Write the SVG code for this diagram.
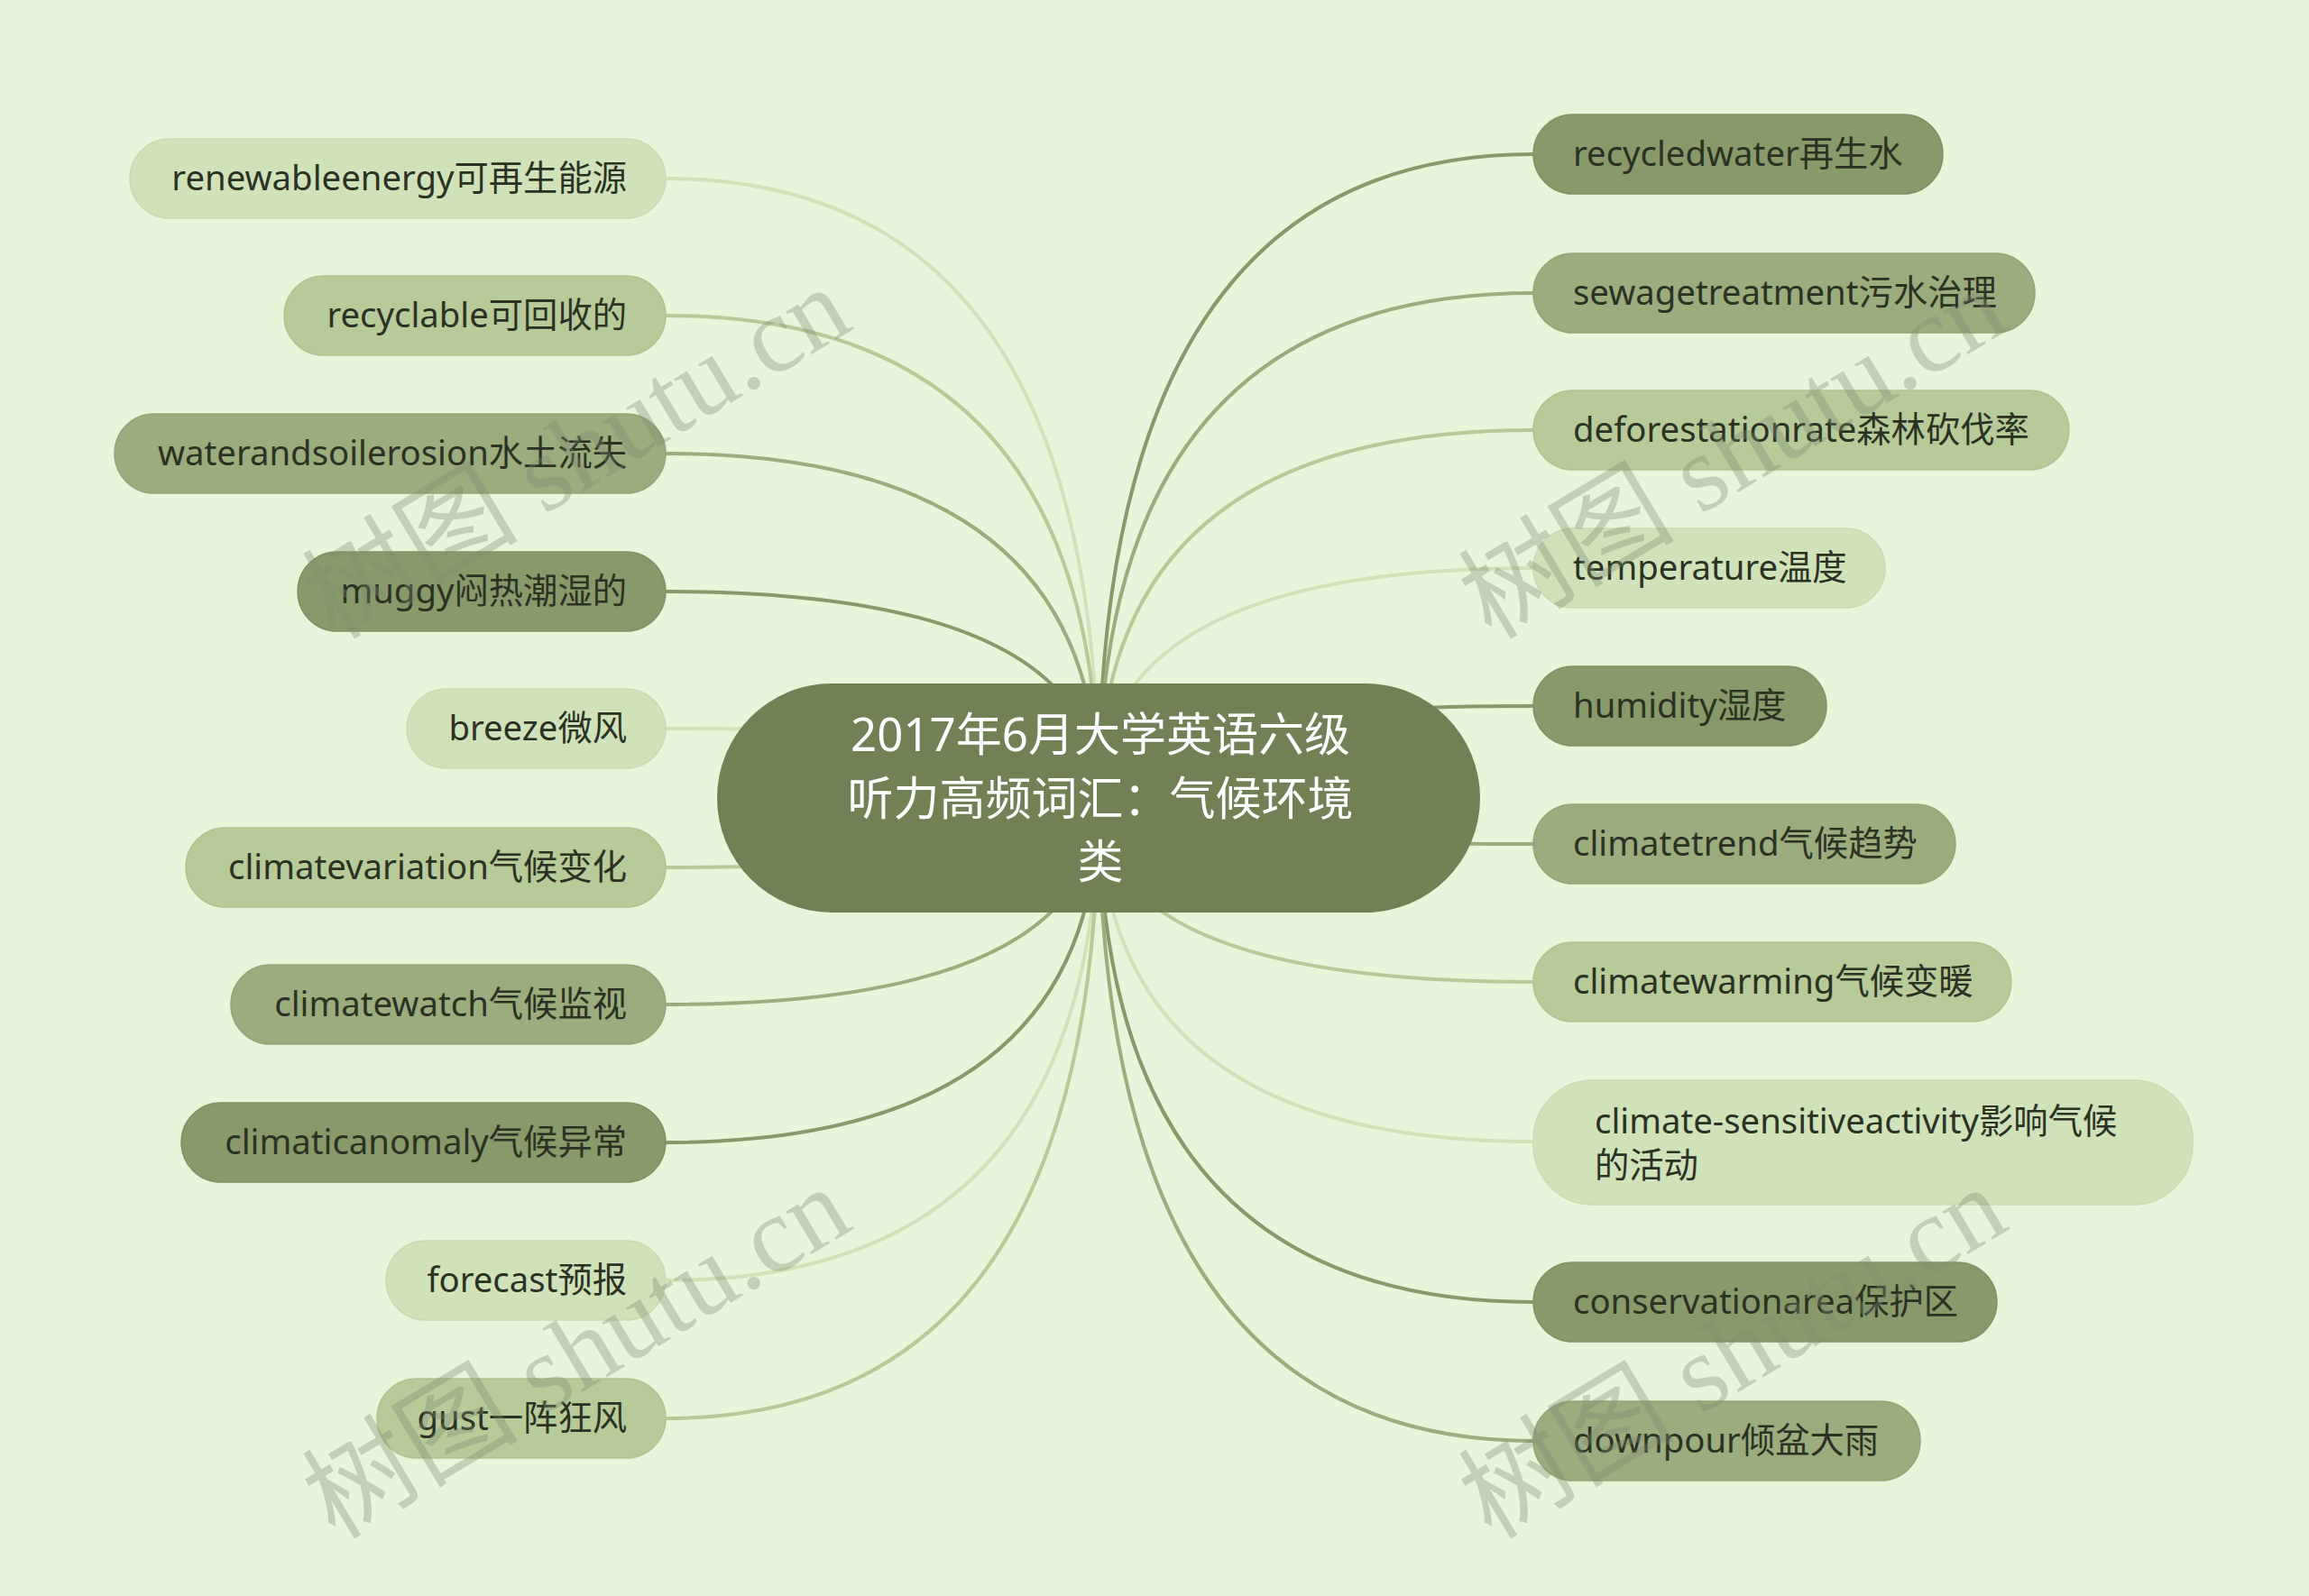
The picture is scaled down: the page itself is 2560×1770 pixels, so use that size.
<svg xmlns="http://www.w3.org/2000/svg" width="2560" height="1770" viewBox="0 0 2560 1770">
<style>
.bg{fill:#e8f5db}
.n1{fill:#cfe2ba;stroke:#c9dcb3;stroke-width:1.5}
.n2{fill:#b6ca9a;stroke:#b0c493;stroke-width:1.5}
.n3{fill:#9bac7e;stroke:#94a577;stroke-width:1.5}
.n4{fill:#88996b;stroke:#819264;stroke-width:1.5}
.l1{stroke:#cfe2ba}
.l2{stroke:#b6ca9a}
.l3{stroke:#9bac7e}
.l4{stroke:#88996b}
#connectors path{fill:none;stroke-width:4}
.t{font-family:"Noto Sans","Noto Sans CJK SC",sans-serif;font-size:38.3px;fill:#2b3224}
.tl{text-anchor:end}
.root{fill:#718155}
.rt{font-family:"Noto Sans","Noto Sans CJK SC",sans-serif;font-size:51px;fill:#ffffff;text-anchor:middle}
.wm{font-family:"Liberation Serif","Noto Sans CJK SC",serif;font-size:120px;fill:#7f8c73;opacity:0.35;text-anchor:middle}
</style>
<rect class="bg" x="0" y="0" width="2560" height="1770"/>
<g id="connectors">
<path class="l1" d="M738 198 Q1218 198 1218 885"/>
<path class="l2" d="M738 350 Q1218 350 1218 885"/>
<path class="l3" d="M738 503 Q1218 503 1218 885"/>
<path class="l4" d="M738 656 Q1218 656 1218 885"/>
<path class="l1" d="M738 808 Q1218 808 1218 885"/>
<path class="l2" d="M738 962 Q1218 962 1218 885"/>
<path class="l3" d="M738 1114 Q1218 1114 1218 885"/>
<path class="l4" d="M738 1267 Q1218 1267 1218 885"/>
<path class="l1" d="M738 1420 Q1218 1420 1218 885"/>
<path class="l2" d="M738 1573 Q1218 1573 1218 885"/>
<path class="l4" d="M1218 885 Q1218 171 1700 171"/>
<path class="l3" d="M1218 885 Q1218 325 1700 325"/>
<path class="l2" d="M1218 885 Q1218 477 1700 477"/>
<path class="l1" d="M1218 885 Q1218 630 1700 630"/>
<path class="l4" d="M1218 885 Q1218 783 1700 783"/>
<path class="l3" d="M1218 885 Q1218 936 1700 936"/>
<path class="l2" d="M1218 885 Q1218 1089 1700 1089"/>
<path class="l1" d="M1218 885 Q1218 1266 1700 1266"/>
<path class="l4" d="M1218 885 Q1218 1444 1700 1444"/>
<path class="l3" d="M1218 885 Q1218 1598 1700 1598"/>
</g>
<g id="root">
<rect class="root" x="795" y="758" width="846" height="254" rx="127" ry="127"/>
<text class="rt" x="1220" y="833">2017年6月大学英语六级</text>
<text class="rt" x="1220" y="904">听力高频词汇：气候环境</text>
<text class="rt" x="1220" y="974">类</text>
</g>
<g id="n-renewable"><rect class="n1" x="144" y="154" width="594" height="88" rx="44"/><text class="t tl" x="695" y="211">renewableenergy可再生能源</text></g>
<g id="n-recyclable"><rect class="n2" x="315" y="306" width="423" height="88" rx="44"/><text class="t tl" x="695" y="363">recyclable可回收的</text></g>
<g id="n-waterandsoil"><rect class="n3" x="127" y="459" width="611" height="88" rx="44"/><text class="t tl" x="695" y="516">waterandsoilerosion水土流失</text></g>
<g id="n-muggy"><rect class="n4" x="330" y="612" width="408" height="88" rx="44"/><text class="t tl" x="695" y="669">muggy闷热潮湿的</text></g>
<g id="n-breeze"><rect class="n1" x="451" y="764" width="287" height="88" rx="44"/><text class="t tl" x="695" y="821">breeze微风</text></g>
<g id="n-climatevariation"><rect class="n2" x="206" y="918" width="532" height="88" rx="44"/><text class="t tl" x="695" y="975">climatevariation气候变化</text></g>
<g id="n-climatewatch"><rect class="n3" x="256" y="1070" width="482" height="88" rx="44"/><text class="t tl" x="695" y="1127">climatewatch气候监视</text></g>
<g id="n-climaticanomaly"><rect class="n4" x="201" y="1223" width="537" height="88" rx="44"/><text class="t tl" x="695" y="1280">climaticanomaly气候异常</text></g>
<g id="n-forecast"><rect class="n1" x="428" y="1376" width="310" height="88" rx="44"/><text class="t tl" x="695" y="1433">forecast预报</text></g>
<g id="n-gust"><rect class="n2" x="418" y="1529" width="320" height="88" rx="44"/><text class="t tl" x="695" y="1586">gust一阵狂风</text></g>
<g id="n-recycledwater"><rect class="n4" x="1700" y="127" width="454" height="88" rx="44"/><text class="t" x="1744" y="184">recycledwater再生水</text></g>
<g id="n-sewagetreatment"><rect class="n3" x="1700" y="281" width="556" height="88" rx="44"/><text class="t" x="1744" y="338">sewagetreatment污水治理</text></g>
<g id="n-deforestation"><rect class="n2" x="1700" y="433" width="594" height="88" rx="44"/><text class="t" x="1744" y="490">deforestationrate森林砍伐率</text></g>
<g id="n-temperature"><rect class="n1" x="1700" y="586" width="390" height="88" rx="44"/><text class="t" x="1744" y="643">temperature温度</text></g>
<g id="n-humidity"><rect class="n4" x="1700" y="739" width="325" height="88" rx="44"/><text class="t" x="1744" y="796">humidity湿度</text></g>
<g id="n-climatetrend"><rect class="n3" x="1700" y="892" width="468" height="88" rx="44"/><text class="t" x="1744" y="949">climatetrend气候趋势</text></g>
<g id="n-climatewarming"><rect class="n2" x="1700" y="1045" width="530" height="88" rx="44"/><text class="t" x="1744" y="1102">climatewarming气候变暖</text></g>
<g id="n-climatesensitive"><rect class="n1" x="1700" y="1198" width="731" height="138" rx="66"/><text class="t" x="1768" y="1257">climate-sensitiveactivity影响气候</text><text class="t" x="1768" y="1306">的活动</text></g>
<g id="n-conservationarea"><rect class="n4" x="1700" y="1400" width="514" height="88" rx="44"/><text class="t" x="1744" y="1457">conservationarea保护区</text></g>
<g id="n-downpour"><rect class="n3" x="1700" y="1554" width="429" height="88" rx="44"/><text class="t" x="1744" y="1611">downpour倾盆大雨</text></g>
<g id="watermarks">
<text class="wm" transform="translate(660,537) rotate(-31)">树图 shutu.cn</text>
<text class="wm" transform="translate(1942,537) rotate(-31)">树图 shutu.cn</text>
<text class="wm" transform="translate(660,1535) rotate(-31)">树图 shutu.cn</text>
<text class="wm" transform="translate(1942,1535) rotate(-31)">树图 shutu.cn</text>
</g>
</svg>
